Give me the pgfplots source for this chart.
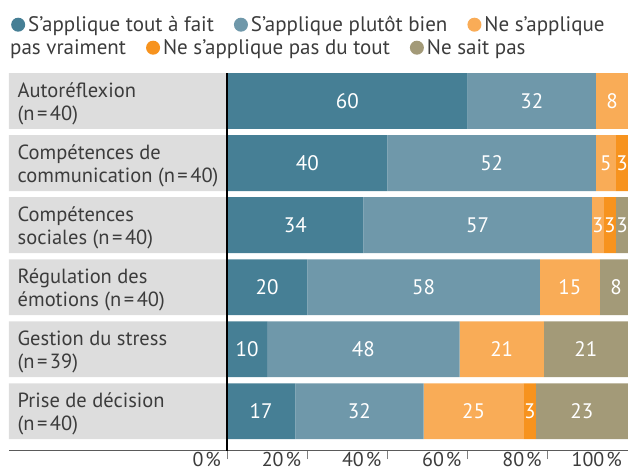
\documentclass[border=0pt]{standalone}
\usepackage{pgfplots}
\pgfplotsset{compat=1.18}
\usepackage{fontspec}
\setmainfont{PT Sans}
\definecolor{c1}{HTML}{467F95}
\definecolor{c2}{HTML}{6F98AA}
\definecolor{c3}{HTML}{F9AC57}
\definecolor{c4}{HTML}{F7931E}
\definecolor{c5}{HTML}{A39A78}
\definecolor{boxgray}{HTML}{DDDDDD}
\definecolor{textgray}{HTML}{3C3C3C}
\definecolor{axisgray}{HTML}{5A5A5A}
\newcommand{\fs}{\fontsize{21}{23}\selectfont}
\newcommand{\fl}{\fontsize{20.5}{23}\selectfont}
\newcommand{\ft}{\fontsize{20}{22}\selectfont}
\newcommand{\nn}[1]{(n\kern2.5pt=\kern2.5pt#1)}
\begin{document}
\begin{tikzpicture}
\useasboundingbox (0,0) rectangle (628pt,472pt);
\pgfplotsset{
  base/.style={scale only axis, width=619pt, height=377.6pt,
    xmin=-54.4, xmax=100, ymin=-0.635, ymax=5.45,
    at={(9pt,21.3pt)}, anchor=south west},
  mylegend/.style={legend columns=-1,
    legend style={draw=none, fill=none, inner sep=0pt, font=\fs, text=textgray,
      /tikz/every even column/.append style={column sep=20pt},
      /tikz/every odd column/.append style={column sep=3pt},
      nodes={inner sep=0pt, anchor=base}},
    legend image code/.code={\fill[##1] (7pt,7pt) circle (7pt);}},
}
% background boxes for category labels
\begin{axis}[base, hide axis]
\addplot[xbar, bar width=0.9, fill=boxgray, draw=none] coordinates {(-54.4,0) (-54.4,1) (-54.4,2) (-54.4,3) (-54.4,4) (-54.4,5)};
\end{axis}
% stacked bars
\begin{axis}[base, xbar stacked, bar width=0.9, axis on top,
  axis x line*=bottom, axis y line*=left,
  y axis line style={draw=none},
  x axis line style={draw=axisgray, line width=1.4pt},
  tick align=outside, major tick length=8.5pt,
  xtick={0,20,40,60,80,100},
  xticklabels={0\kern2pt\%,20\kern2pt\%,40\kern2pt\%,60\kern2pt\%,80\kern2pt\%,100\kern2pt\%},
  xtick style={draw=gray, line width=0.9pt},
  xticklabel style={anchor=base east, inner sep=0pt, xshift=-6pt, yshift=-7pt, font=\ft, text=textgray},
  ytick={0,1,2,3,4,5},
  yticklabels={{Prise de décision\\\nn{40}},{Gestion du stress\\\nn{39}},{Régulation des\\émotions \nn{40}},{Compétences\\sociales \nn{40}},{Compétences de\\communication \nn{40}},{Autoréflexion\\\nn{40}}},
  ytick style={draw=none},
  yticklabel style={anchor=west, align=left, font=\fl, text=textgray, inner sep=0pt, xshift=17pt, yshift=-2.5pt},
  extra x ticks={0}, extra x tick labels={},
  extra x tick style={grid=major, major grid style={draw=black, line width=1.5pt}, tick style={draw=black, line width=1.5pt}},
  mylegend,
  legend style={at={(0.0032,1.128)}, anchor=west},
]
\addplot[fill=c1, draw=none] coordinates {(17,0) (10,1) (20,2) (34,3) (40,4) (60,5)};
\addplot[fill=c2, draw=none] coordinates {(32,0) (48,1) (58,2) (57,3) (52,4) (32,5)};
\addplot[fill=c3, draw=none] coordinates {(25,0) (21,1) (15,2) (3,3) (5,4) (8,5)};
\addplot[fill=c4, draw=none] coordinates {(3,0) (0,1) (0,2) (3,3) (3,4) (0,5)};
\addplot[fill=c5, draw=none] coordinates {(23,0) (21,1) (8,2) (3,3) (0,4) (0,5)};
\legend{S’applique tout à fait, S’applique plutôt bien, Ne s’applique}
\end{axis}
% value labels and second legend row
\begin{axis}[base, hide axis, mylegend,
  legend style={at={(-0.0032,1.0665)}, anchor=west}]
\addplot[draw=none, mark=none, forget plot,
  nodes near coords={\pgfplotspointmeta}, point meta=explicit symbolic,
  every node near coord/.style={anchor=center, text=white, font=\fs, inner sep=0pt}]
  coordinates {
  (30,5) [60] (76,5) [32] (96,5) [8]
  (20,4) [40] (66,4) [52] (94.5,4) [5] (98.5,4) [3]
  (17,3) [34] (62.5,3) [57] (92.5,3) [3] (95.5,3) [3] (98.5,3) [3]
  (10,2) [20] (49,2) [58] (85.5,2) [15] (97,2) [8]
  (5,1) [10] (34,1) [48] (68.5,1) [21] (89.5,1) [21]
  (8.5,0) [17] (33,0) [32] (61.5,0) [25] (75.5,0) [3] (88.5,0) [23]
  };
\addlegendimage{empty legend}\addlegendentry{pas vraiment}
\addlegendimage{fill=c4, draw=none}\addlegendentry{Ne s’applique pas du tout}
\addlegendimage{fill=c5, draw=none}\addlegendentry{Ne sait pas}
\end{axis}
\end{tikzpicture}
\end{document}
